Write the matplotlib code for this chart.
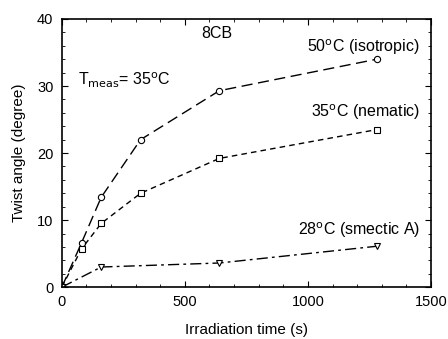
import matplotlib.pyplot as plt
import numpy as np

plt.rcParams['font.family'] = ['Liberation Sans', 'DejaVu Sans']

# irradiation time (s) and twist angle (degree)
t_iso = [0, 80, 160, 320, 640, 1280]
a_iso = [0, 6.6, 13.4, 22.0, 29.3, 34.0]

t_nem = [0, 80, 160, 320, 640, 1280]
a_nem = [0, 5.7, 9.5, 14.0, 19.2, 23.5]

t_sm = [0, 160, 640, 1280]
a_sm = [0, 3.0, 3.6, 6.1]

fig = plt.figure(figsize=(4.48, 3.39), dpi=100)
ax = fig.add_axes([0.138, 0.153, 0.824, 0.791])

ax.plot(t_iso, a_iso, color='k', lw=1, ls=(0, (8, 4)), marker='o',
        ms=4.5, mfc='white', mec='k', mew=0.8)
ax.plot(t_nem, a_nem, color='k', lw=1, ls=(0, (4, 3)), marker='s',
        ms=4.5, mfc='white', mec='k', mew=0.8)
ax.plot(t_sm, a_sm, color='k', lw=1, ls=(0, (8, 3, 2, 3)), marker='v',
        ms=5, mfc='white', mec='k', mew=0.8)

ax.set_xlim(0, 1500)
ax.set_ylim(0, 40)
ax.set_xticks([0, 500, 1000, 1500])
ax.set_yticks([0, 10, 20, 30, 40])
ax.set_xticks(np.arange(0, 1501, 100), minor=True)
ax.set_yticks(np.arange(0, 41, 2), minor=True)
ax.tick_params(which='both', direction='in', top=True, right=True, labelsize=10.5)
ax.tick_params(which='major', length=4, pad=6)
ax.tick_params(which='minor', length=2)
for s in ax.spines.values():
    s.set_linewidth(1.2)

ax.set_xlabel('Irradiation time (s)', fontsize=11, labelpad=10)
ax.set_ylabel('Twist angle (degree)', fontsize=11, labelpad=8)

ax.text(630, 37.8, '8CB', fontsize=11.5, ha='center', va='center')
ax.text(65, 30.8, r'T$_{\rm meas}$= 35$^{\rm o}$C', fontsize=11.5, ha='left', va='center')
ax.text(1455, 35.8, r'50$^{\rm o}$C (isotropic)', fontsize=11.5, ha='right', va='center')
ax.text(1455, 26.1, r'35$^{\rm o}$C (nematic)', fontsize=11.5, ha='right', va='center')
ax.text(1455, 8.5, r'28$^{\rm o}$C (smectic A)', fontsize=11.5, ha='right', va='center')

fig.savefig('out.png', dpi=100)
